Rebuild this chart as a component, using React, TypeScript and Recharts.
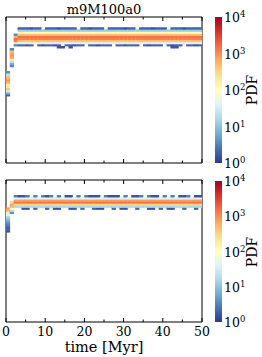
import { ScatterChart, Scatter, XAxis, YAxis, ReferenceArea, ComposedChart } from 'recharts';

const FONT = '"DejaVu Serif", serif';

const xTicks = [0, 5, 10, 15, 20, 25, 30, 35, 40, 45, 50];
const topYTicks = [0, 1, 2, 3, 4, 5, 6, 7];
const bottomYTicks = [1, 2, 3, 4, 5, 6, 7];
const cbTicks = [1, 10, 100, 1000, 10000];

// RdYlBu_r
const cmap = ['#313695', '#4575b4', '#74add1', '#abd9e9', '#e0f3f8', '#ffffbf', '#fee090', '#fdae61', '#f46d43', '#d73027', '#a50026'];

// top panel: first Myr columns (start time, lowest 0.1 bin, pdf per bin going up)
const topEarly = [
  { t: 0, y0: 3.2, pdf: [2, 8, 30, 400, 200, 150, 500, 800, 700, 400, 20, 4] },
  { t: 1, y0: 4.6, pdf: [3, 6, 20, 200, 700, 900, 800, 500, 3] },
  { t: 2, y0: 5.6, pdf: [3, 30, 1200, 1500, 600, 4] },
];
// steady band from t=3: lower edge bin at 5.6, core 5.7..6.3, upper edge at 6.4
const topBandStart = 3;
const topBandBase = 5.6;
const topBandCore = [40, 400, 1200, 1500, 500, 120, 12];
const topEdgeLo = [
  2, 2, 1.5, 2, 0, 2, 1.5, 2, 2, 1.5,
  2, 0, 2, 2, 1.5, 2, 2, 0, 2, 2,
  1.5, 2, 2, 2, 0, 2, 2, 1.5, 2, 2,
  2, 0, 2, 1.5, 2, 2, 2, 0, 2, 1.5,
  2, 2, 0, 2, 2, 1.5, 2,
];
const topEdgeHi = [
  2, 2, 2, 1.5, 2, 2, 0, 2, 2, 2,
  1.5, 2, 2, 2, 2, 0, 2, 2, 1.5, 2,
  2, 2, 0, 2, 2, 2, 2, 1.5, 2, 2,
  0, 2, 2, 2, 1.5, 2, 2, 2, 0, 2,
  2, 2, 1.5, 2, 2, 2, 2,
];
const topEdgeLo2 = [
  0, 0, 0, 0, 0, 0, 0, 0, 0, 0,
  1.5, 1.5, 0, 1.5, 0, 0, 0, 0, 0, 0,
  0, 0, 0, 0, 0, 0, 0, 0, 0, 0,
  0, 0, 0, 0, 0, 0, 0, 0, 0, 1.5,
  1.5, 0, 0, 0, 0, 0, 0,
];

// bottom panel
const bottomEarly = [
  { t: 0, y0: 4.9, pdf: [1.5, 2, 2, 3, 4, 6, 10, 15, 40, 150, 500, 800] },
  { t: 1, y0: 5.8, pdf: [4, 15, 100, 600, 800, 300] },
];
const bottomBandStart = 2;
const bottomBandBase = 6.0;
const bottomBandCore = [15, 300, 1500, 800, 40];
const bottomEdgeLo = [
  0, 0, 1.5, 1.5, 0, 2, 0, 0, 2, 0,
  1.5, 1.5, 0, 0, 1.5, 1.5, 0, 2, 0, 0,
  2, 1.5, 1.5, 0, 0, 2, 0, 1.5, 1.5, 0,
  0, 2, 0, 0, 1.5, 1.5, 0, 2, 0, 1.5,
  1.5, 0, 0, 2, 0, 0, 2, 0,
];
const bottomEdgeHi = [
  3, 1.5, 1.5, 3, 0, 3, 0, 3, 1.5, 3,
  0, 3, 0, 1.5, 1.5, 0, 3, 0, 3, 1.5,
  1.5, 1.5, 0, 3, 1.5, 1.5, 1.5, 0, 3, 0,
  1.5, 1.5, 3, 0, 3, 1.5, 1.5, 0, 3, 0,
  3, 0, 1.5, 1.5, 3, 0, 1.5, 1.5,
];

// layout (px)
const PLOT_LEFT = 6;
const PLOT_RIGHT = 202;
const CELL_W = (PLOT_RIGHT - PLOT_LEFT) / 50;
const TOP_DOMAIN = [0, 7];
const BOTTOM_DOMAIN = [0.565, 7.435];
const TOP_CELL_H = 146 / (TOP_DOMAIN[1] - TOP_DOMAIN[0]) / 10;
const BOTTOM_CELL_H = 142 / (BOTTOM_DOMAIN[1] - BOTTOM_DOMAIN[0]) / 10;

type Cell = { t: number; y: number; pdf: number };

function columnCells(t: number, y0: number, pdf: number[]): Cell[] {
  return pdf
    .map((v, i) => ({ t: t + 0.5, y: y0 + 0.1 * i + 0.05, pdf: v }))
    .filter((c) => c.pdf > 0);
}

function buildCells(early: any[], start: number, base: number, core: number[], lo: number[], hi: number[], lo2?: number[]) {
  const cells: Cell[] = early.flatMap((c) => columnCells(c.t, c.y0, c.pdf));
  lo.forEach((v, i) => {
    const t = start + i;
    cells.push(...columnCells(t, base, [v, ...core, hi[i]]));
    if (lo2 && lo2[i]) cells.push(...columnCells(t, base - 0.1, [lo2[i]]));
  });
  return cells;
}

const topCells = buildCells(topEarly, topBandStart, topBandBase, topBandCore, topEdgeLo, topEdgeHi, topEdgeLo2);
const bottomCells = buildCells(bottomEarly, bottomBandStart, bottomBandBase, bottomBandCore, bottomEdgeLo, bottomEdgeHi);

function hexToRgb(h: string) {
  return [1, 3, 5].map((k) => parseInt(h.slice(k, k + 2), 16));
}

function pdfColor(v: number) {
  const n = Math.min(1, Math.max(0, Math.log10(v) / 4)) * (cmap.length - 1);
  const i = Math.min(cmap.length - 2, Math.floor(n));
  const f = n - i;
  const a = hexToRgb(cmap[i]);
  const b = hexToRgb(cmap[i + 1]);
  const c = a.map((x, k) => Math.round(x + (b[k] - x) * f));
  return `rgb(${c[0]},${c[1]},${c[2]})`;
}

const XTick = ({ x, y, payload, plotTop, labels }: any) => {
  const v = payload.value;
  const major = v % 10 === 0;
  const len = major ? 4 : 2.5;
  return (
    <g>
      <line x1={x} y1={y} x2={x} y2={y - len} stroke="#000" />
      <line x1={x} y1={plotTop} x2={x} y2={plotTop + len} stroke="#000" />
      {labels && major && (
        <text x={x} y={y + 13.5} textAnchor="middle" fontSize={12.5} fontFamily={FONT} fill="#000">
          {v}
        </text>
      )}
    </g>
  );
};

const YTick = ({ x, y, payload }: any) => {
  const major = payload.value % 2 === 1;
  const len = major ? 4.5 : 3;
  const w = major ? 1.6 : 1.2;
  return (
    <g>
      <line x1={x} y1={y} x2={x + len} y2={y} stroke="#000" strokeWidth={w} />
      <line x1={PLOT_RIGHT} y1={y} x2={PLOT_RIGHT - len} y2={y} stroke="#000" strokeWidth={w} />
    </g>
  );
};

const CbTick = ({ x, y, payload }: any) => {
  const exp = Math.round(Math.log10(payload.value));
  return (
    <text x={x + 2} y={y + 5} fontSize={12.5} fontFamily={FONT} fill="#000">
      <tspan>10</tspan>
      <tspan dy={-5} fontSize={8.5}>{exp}</tspan>
    </text>
  );
};

function HeatPanel({ cells, top, height, marginTop, marginBottom, axisHeight, yDomain, yTicks, cellH, labels }: any) {
  return (
    <div style={{ position: 'absolute', left: 0, top }}>
      <ScatterChart width={210} height={height} margin={{ top: marginTop, right: 8, bottom: marginBottom, left: PLOT_LEFT }}>
        <XAxis
          dataKey="t"
          type="number"
          domain={[0, 50]}
          ticks={xTicks}
          interval={0}
          height={axisHeight}
          tickSize={0}
          tickMargin={0}
          tickLine={false}
          axisLine={false}
          allowDataOverflow
          tick={(p: any) => <XTick {...p} plotTop={marginTop} labels={labels} />}
          label={labels ? { value: 'time [Myr]', position: 'insideBottom', offset: 0, fontSize: 14.5, fontFamily: FONT, fill: '#000' } : undefined}
        />
        <YAxis
          dataKey="y"
          type="number"
          domain={yDomain}
          ticks={yTicks}
          interval={0}
          width={0}
          tickSize={0}
          tickMargin={0}
          tickLine={false}
          axisLine={false}
          allowDataOverflow
          tick={(p: any) => <YTick {...p} />}
        />
        <Scatter
          data={cells}
          isAnimationActive={false}
          shape={(p: any) => (
            <rect
              x={p.cx - CELL_W / 2 - 0.2}
              y={p.cy - cellH / 2 - 0.2}
              width={CELL_W + 0.4}
              height={cellH + 0.4}
              fill={pdfColor(p.payload.pdf)}
            />
          )}
        />
        <ReferenceArea x1={0} x2={50} y1={yDomain[0]} y2={yDomain[1]} fill="none" fillOpacity={0} stroke="#000" strokeWidth={1} ifOverflow="visible" />
      </ScatterChart>
    </div>
  );
}

function ColorBar({ id, top, height, marginTop, marginBottom }: any) {
  return (
    <div style={{ position: 'absolute', left: 200, top }}>
      <ComposedChart width={62} height={height} margin={{ top: marginTop, right: 0, bottom: marginBottom, left: 15 }}>
        <defs>
          <linearGradient id={id} x1="0" y1="1" x2="0" y2="0">
            {cmap.map((c, i) => (
              <stop key={i} offset={i / (cmap.length - 1)} stopColor={c} />
            ))}
          </linearGradient>
        </defs>
        <XAxis type="number" dataKey="x" domain={[0, 1]} hide allowDataOverflow />
        <YAxis
          orientation="right"
          type="number"
          scale="log"
          domain={[1, 10000]}
          ticks={cbTicks}
          interval={0}
          width={40}
          tickSize={0}
          tickMargin={0}
          tickLine={false}
          axisLine={false}
          allowDataOverflow
          tick={(p: any) => <CbTick {...p} />}
        />
        <ReferenceArea x1={0} x2={1} y1={1} y2={10000} fill={`url(#${id})`} fillOpacity={1} stroke="none" ifOverflow="visible" />
      </ComposedChart>
    </div>
  );
}

const pdfLabel = (cy: number) => (
  <div
    style={{
      position: 'absolute',
      left: 251.5 - 20,
      top: cy - 7,
      width: 40,
      height: 14,
      lineHeight: '14px',
      fontSize: 14,
      fontFamily: FONT,
      textAlign: 'center',
      transform: 'rotate(-90deg)',
      color: '#000',
    }}
  >
    PDF
  </div>
);

export default function App() {
  return (
    <div style={{ position: 'absolute', left: 0, top: 0, width: 262, height: 357, background: '#fff', overflow: 'hidden' }}>
      <div
        style={{
          position: 'absolute',
          left: PLOT_LEFT,
          top: 3,
          width: PLOT_RIGHT - PLOT_LEFT,
          lineHeight: '13px',
          fontSize: 13,
          fontFamily: FONT,
          textAlign: 'center',
          color: '#000',
        }}
      >
        m9M100a0
      </div>
      <HeatPanel cells={topCells} top={0} height={170} marginTop={17} marginBottom={0} axisHeight={7} yDomain={TOP_DOMAIN} yTicks={topYTicks} cellH={TOP_CELL_H} labels={false} />
      <HeatPanel cells={bottomCells} top={170} height={187} marginTop={10} marginBottom={5} axisHeight={30} yDomain={BOTTOM_DOMAIN} yTicks={bottomYTicks} cellH={BOTTOM_CELL_H} labels />
      <ColorBar id="cbTop" top={0} height={170} marginTop={17} marginBottom={7} />
      <ColorBar id="cbBottom" top={170} height={182} marginTop={11} marginBottom={30} />
      {pdfLabel(90)}
      {pdfLabel(251.5)}
    </div>
  );
}
